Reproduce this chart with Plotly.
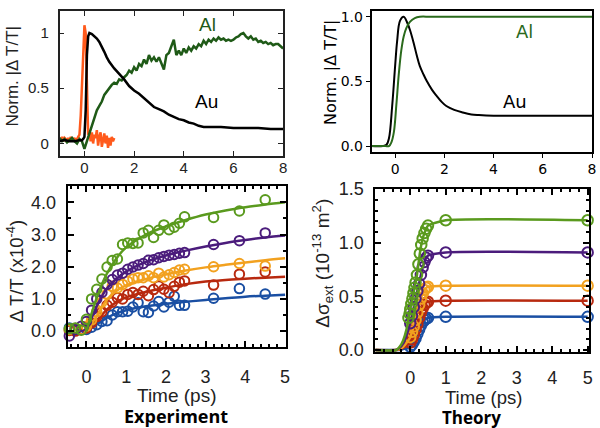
import plotly.graph_objects as go

# ---------------- Top-left: experiment, normalized |dT/T| ----------------
tl_grid = [round(-1.0 + 0.1 * i, 2) for i in range(91)]
al_exp = [0.05, 0.02, 0.04, 0.01, 0.03, 0.05, 0.02, 0.00, 0.04, 0.02,
          -0.05, 0.02, 0.10, 0.17, 0.22, 0.30, 0.34, 0.38, 0.44, 0.47,
          0.51, 0.53, 0.55, 0.54, 0.58, 0.57, 0.60, 0.62, 0.66, 0.64,
          0.69, 0.66, 0.72, 0.70, 0.76, 0.72, 0.80, 0.75, 0.78, 0.74,
          0.78, 0.72, 0.67, 0.80, 0.82, 0.88, 0.94, 0.80, 0.84, 0.80,
          0.86, 0.82, 0.87, 0.84, 0.88, 0.86, 0.90, 0.88, 0.93, 0.90,
          0.94, 0.92, 0.95, 0.93, 0.96, 0.94, 0.95, 0.93, 0.94, 0.93,
          0.94, 0.96, 0.97, 0.99, 1.00, 0.97, 0.95, 0.97, 0.94, 0.95,
          0.92, 0.93, 0.91, 0.92, 0.90, 0.91, 0.89, 0.90, 0.90, 0.88,
          0.86]
au_exp_t = [-1.0, -0.8, -0.6, -0.4, -0.2, -0.1, -0.05, 0.0, 0.05, 0.1, 0.15, 0.2,
            0.3, 0.4, 0.5, 0.6, 0.7, 0.8, 0.9, 1.0, 1.2, 1.4, 1.6, 1.8, 2.0,
            2.2, 2.4, 2.6, 2.8, 3.0, 3.2, 3.4, 3.6, 3.8, 4.0, 4.2, 4.4, 4.6,
            4.8, 5.0, 5.5, 6.0, 6.5, 7.0, 7.5, 8.0]
au_exp = [0.02, 0.03, 0.02, 0.02, 0.03, 0.03, 0.04, 0.06, 0.30, 0.80, 0.97, 1.00,
          0.99, 0.97, 0.95, 0.92, 0.88, 0.83, 0.78, 0.74, 0.68, 0.63, 0.58, 0.52, 0.48,
          0.45, 0.41, 0.37, 0.33, 0.31, 0.29, 0.26, 0.24, 0.22, 0.21, 0.19, 0.18, 0.16,
          0.15, 0.15, 0.15, 0.14, 0.14, 0.14, 0.13, 0.13]
pulse_t = [round(-1.0 + 0.05 * i, 2) for i in range(45)]
pulse = [0.05, 0.03, 0.06, 0.02, 0.05, 0.04, 0.01, 0.05, 0.03, 0.06,
         0.02, 0.04, 0.05, 0.02, 0.04, 0.06, 0.08, 0.25, 0.55, 0.90,
         1.07, 1.00, 0.45, 0.08, 0.12, 0.02, 0.10, 0.00, 0.08, 0.05,
         0.12, -0.02, 0.06, 0.10, -0.03, 0.04, 0.09, 0.00, 0.07, -0.04,
         0.05, -0.02, 0.06, 0.02, 0.05]

# ---------------- Top-right: theory, normalized ----------------
au_th_t = [-1.0, -0.5, -0.35, -0.25, -0.12, 0.0, 0.08, 0.2, 0.35, 0.5, 0.6, 0.75,
           0.88, 1.0, 1.15, 1.28, 1.5, 1.68, 1.9, 2.08, 2.4, 2.75, 3.1, 3.4, 4.0, 5.0, 8.0]
au_th = [0.0, 0.0, 0.01, 0.06, 0.31, 0.62, 0.81, 0.97, 1.00, 0.95, 0.90, 0.80,
         0.70, 0.62, 0.555, 0.505, 0.435, 0.39, 0.34, 0.31, 0.28, 0.26, 0.245, 0.24, 0.235, 0.235, 0.235]
al_th_t = [-1.0, -0.4, -0.25, -0.15, -0.05, 0.05, 0.15, 0.25, 0.35, 0.45, 0.6, 0.8, 1.0, 1.5, 8.0]
al_th = [0.0, 0.0, 0.0, 0.03, 0.11, 0.32, 0.56, 0.74, 0.85, 0.91, 0.96, 0.99, 1.0, 1.0, 1.0]

# ---------------- Bottom-left: experiment dT/T (x1e-4) ----------------
exp_t = [-0.43, -0.28, -0.13, 0.0, 0.13, 0.26, 0.39, 0.52, 0.65, 0.78, 0.91, 1.04, 1.17,
         1.30, 1.43, 1.56, 1.69, 1.82, 1.95, 2.08, 2.21, 2.34, 2.47, 3.2, 3.85, 4.5]
exp_green = [0.07, 0.10, 0.03, 0.37, 1.00, 1.30, 1.62, 1.99, 2.19, 2.24, 2.69, 2.74, 2.72,
             2.74, 3.05, 3.13, 2.91, 3.13, 3.30, 3.15, 3.23, 3.35, 3.55, 3.53, 3.73, 4.08]
exp_purple = [-0.15, 0.05, 0.15, 0.30, 0.65, 1.00, 1.20, 1.45, 1.60, 1.74, 1.80, 1.92, 1.99,
              2.05, 2.10, 2.20, 2.22, 2.28, 2.32, 2.36, 2.38, 2.42, 2.44, 2.69, 2.81, 3.05]
exp_orange = [0.05, 0.08, 0.05, 0.15, 0.35, 0.60, 0.90, 1.15, 1.39, 1.34, 1.45, 1.55, 1.62,
              1.66, 1.66, 1.72, 1.66, 1.80, 1.68, 1.75, 1.82, 1.90, 1.92, 2.00, 2.10, 2.02]
exp_red = [0.02, 0.00, 0.05, 0.10, 0.25, 0.45, 0.60, 0.80, 0.90, 1.04, 1.00, 1.14, 1.20,
           1.14, 1.24, 1.10, 1.29, 1.40, 1.30, 1.19, 1.39, 1.52, 1.56, 1.43, 1.77, 1.84]
exp_blue = [0.10, 0.08, 0.05, 0.05, 0.12, 0.20, 0.30, 0.32, 0.50, 0.60, 0.60, 0.62, 0.75,
            0.88, 0.60, 0.58, 0.78, 0.92, 0.75, 0.90, 1.08, 0.80, 0.80, 1.02, 1.32, 1.15]
fit_t = [0.0, 0.25, 0.5, 0.75, 1.0, 1.5, 2.0, 2.5, 3.0, 3.5, 4.0, 4.5, 5.0]
fit_green = [0.0, 1.00, 1.75, 2.25, 2.60, 3.00, 3.25, 3.45, 3.62, 3.75, 3.85, 3.93, 4.00]
fit_purple = [0.0, 0.75, 1.30, 1.62, 1.85, 2.15, 2.35, 2.50, 2.63, 2.74, 2.83, 2.91, 2.97]
fit_orange = [0.0, 0.45, 0.95, 1.25, 1.42, 1.62, 1.76, 1.88, 1.98, 2.06, 2.13, 2.20, 2.26]
fit_red = [0.0, 0.30, 0.65, 0.90, 1.05, 1.22, 1.35, 1.46, 1.54, 1.59, 1.63, 1.66, 1.69]
fit_blue = [0.0, 0.20, 0.40, 0.55, 0.65, 0.77, 0.85, 0.91, 0.97, 1.02, 1.07, 1.10, 1.13]

# ---------------- Bottom-right: theory delta sigma_ext ----------------
th_green_t = [-1.0, -0.05, -0.02, 0.0, 0.03, 0.06, 0.09, 0.12, 0.15, 0.19, 0.23, 0.27,
              0.31, 0.35, 0.40, 0.45, 0.50, 1.0, 5.0]
th_green = [0.0, 0.30, 0.34, 0.38, 0.43, 0.48, 0.53, 0.58, 0.63, 0.70, 0.80, 0.90,
            0.98, 1.04, 1.09, 1.13, 1.16, 1.21, 1.21]
th_t = [-1.0, 0.0, 0.05, 0.1, 0.15, 0.2, 0.25, 0.3, 0.35, 0.4, 0.45, 0.5, 1.0, 5.0]
th_purple = [0.0, 0.25, 0.32, 0.40, 0.48, 0.55, 0.62, 0.70, 0.77, 0.82, 0.86, 0.88, 0.91, 0.91]
th_orange = [0.0, 0.12, 0.17, 0.22, 0.28, 0.35, 0.42, 0.48, 0.53, 0.56, 0.58, 0.59, 0.60, 0.60]
th_red = [0.0, 0.07, 0.10, 0.14, 0.19, 0.24, 0.30, 0.35, 0.39, 0.42, 0.44, 0.45, 0.46, 0.46]
th_blue = [0.0, 0.03, 0.05, 0.08, 0.11, 0.15, 0.19, 0.23, 0.26, 0.28, 0.29, 0.30, 0.31, 0.31]
rise_t = [-1.0, -0.4, -0.3, -0.2, -0.1]
rise_green = [0.0, 0.0, 0.03, 0.09, 0.20]
rise_purple = [0.0, 0.0, 0.02, 0.06, 0.14]
rise_orange = [0.0, 0.0, 0.01, 0.03, 0.07]
rise_red = [0.0, 0.0, 0.005, 0.02, 0.04]
rise_blue = [0.0, 0.0, 0.0, 0.01, 0.015]

C_GREEN = "#5a9a1e"
C_PURPLE = "#4b1c7c"
C_ORANGE = "#f2a11f"
C_RED = "#b8290f"
C_BLUE = "#1a4fa3"
C_AL = "#1f5a17"
C_AU = "#000000"
C_PULSE = "#ff5a1c"

W, H = 600, 428
fig = go.Figure()

# top-left
fig.add_trace(go.Scatter(x=pulse_t, y=pulse, mode="lines", line=dict(color=C_PULSE, width=2.5),
                         xaxis="x", yaxis="y"))
fig.add_trace(go.Scatter(x=tl_grid, y=al_exp, mode="lines", line=dict(color=C_AL, width=2.5),
                         xaxis="x", yaxis="y"))
fig.add_trace(go.Scatter(x=au_exp_t, y=au_exp, mode="lines", line=dict(color=C_AU, width=2.5),
                         xaxis="x", yaxis="y"))
# top-right
fig.add_trace(go.Scatter(x=au_th_t, y=au_th, mode="lines", line=dict(color=C_AU, width=2, shape="spline"),
                         xaxis="x2", yaxis="y2"))
fig.add_trace(go.Scatter(x=al_th_t, y=al_th, mode="lines", line=dict(color="#2a6a1c", width=2, shape="spline"),
                         xaxis="x2", yaxis="y2"))

# bottom-left
for ys, fy, c in [(exp_blue, fit_blue, C_BLUE), (exp_red, fit_red, C_RED),
                  (exp_orange, fit_orange, C_ORANGE), (exp_purple, fit_purple, C_PURPLE),
                  (exp_green, fit_green, C_GREEN)]:
    fig.add_trace(go.Scatter(x=fit_t, y=fy, mode="lines", line=dict(color=c, width=2.5, shape="spline"),
                             xaxis="x3", yaxis="y3"))
    fig.add_trace(go.Scatter(x=exp_t, y=ys, mode="markers",
                             marker=dict(symbol="circle-open", size=9.5, color=c, line=dict(width=2)),
                             xaxis="x3", yaxis="y3", cliponaxis=False))

# bottom-right
for tt, ys, rt, rv, c in [(th_t, th_blue, rise_t, rise_blue, C_BLUE),
                          (th_t, th_red, rise_t, rise_red, C_RED),
                          (th_t, th_orange, rise_t, rise_orange, C_ORANGE),
                          (th_t, th_purple, rise_t, rise_purple, C_PURPLE),
                          (th_green_t, th_green, rise_t, rise_green, C_GREEN)]:
    lx = rt + tt[1:]
    ly = rv + ys[1:]
    fig.add_trace(go.Scatter(x=lx, y=ly, mode="lines", line=dict(color=c, width=2.5, shape="spline", smoothing=0.6),
                             xaxis="x4", yaxis="y4"))
    fig.add_trace(go.Scatter(x=tt, y=ys, mode="markers",
                             marker=dict(symbol="circle-open", size=10.5, color=c, line=dict(width=2)),
                             xaxis="x4", yaxis="y4", cliponaxis=False))


def px_x(a, b):
    return [a / W, b / W]


def px_y(top, bottom):
    return [1 - bottom / H, 1 - top / H]


ARIAL = "Liberation Sans, Arial, sans-serif"
DEJAVU = "DejaVu Sans, sans-serif"

common_bottom = dict(showgrid=False, zeroline=False, showline=True, linecolor="black", linewidth=2,
                     mirror="allticks", ticks="inside", ticklen=6, tickwidth=1.5, tickcolor="black",
                     tickfont=dict(family=ARIAL, size=18, color="#222"))

fig.update_layout(
    width=W, height=H, margin=dict(l=0, r=0, t=0, b=0),
    paper_bgcolor="white", plot_bgcolor="white", showlegend=False,
    xaxis=dict(domain=px_x(60, 285), range=[-1.0, 8.0], tickvals=[0, 2, 4, 6, 8],
               showgrid=False, zeroline=False, showline=True, linecolor="#222", linewidth=1.5,
               mirror="allticks", ticks="inside", ticklen=5, tickcolor="#222", anchor="y",
               tickfont=dict(family=ARIAL, size=15, color="#222"), ticklabelstandoff=-2),
    yaxis=dict(domain=px_y(1, 152), range=[-0.11, 1.2], tickvals=[0, 0.5, 1], ticktext=["0", "0.5", "1"],
               showgrid=False, zeroline=False, showline=True, linecolor="#222", linewidth=1.5,
               mirror="allticks", ticks="inside", ticklen=5, tickcolor="#222", anchor="x",
               tickfont=dict(family=ARIAL, size=15, color="#222"), ticklabelstandoff=6),
    xaxis2=dict(domain=px_x(374, 596), range=[-0.96, 8.0], tickvals=[0, 2, 4, 6, 8],
                showgrid=False, zeroline=False, showline=True, linecolor="black", linewidth=1.5,
                mirror=True, ticks="outside", ticklen=4, tickcolor="black", anchor="y2",
                tickfont=dict(family=DEJAVU, size=14, color="black"), ticklabelstandoff=0),
    yaxis2=dict(domain=px_y(1, 148), range=[-0.044, 1.045], tickvals=[0, 0.5, 1.0],
                ticktext=["0.0", "0.5", "1.0"],
                showgrid=False, zeroline=False, showline=True, linecolor="black", linewidth=1.5,
                mirror=True, ticks="outside", ticklen=4, tickcolor="black", anchor="x2",
                tickfont=dict(family=DEJAVU, size=14, color="black")),
    xaxis3=dict(domain=px_x(68, 288), range=[-0.475, 5.025], tickvals=[0, 1, 2, 3, 4, 5],
                minor=dict(dtick=0.2, ticks="inside", ticklen=3, tickcolor="black"),
                anchor="y3", ticklabelstandoff=12, **common_bottom),
    yaxis3=dict(domain=px_y(184, 352), range=[-0.5, 4.5], tickvals=[0, 1, 2, 3, 4],
                ticktext=["0.0", "1.0", "2.0", "3.0", "4.0"],
                minor=dict(dtick=0.5, ticks="inside", ticklen=3, tickcolor="black"),
                anchor="x3", ticklabelstandoff=6, **common_bottom),
    xaxis4=dict(domain=px_x(378, 593), range=[-0.98, 5.04], tickvals=[0, 1, 2, 3, 4, 5],
                minor=dict(dtick=0.25, ticks="inside", ticklen=3, tickcolor="black"),
                anchor="y4", ticklabelstandoff=8, **common_bottom),
    yaxis4=dict(domain=px_y(187, 357), range=[-0.018, 1.5], tickvals=[0, 0.5, 1.0, 1.5],
                ticktext=["0.0", "0.5", "1.0", "1.5"],
                minor=dict(dtick=0.1, ticks="inside", ticklen=3, tickcolor="black"),
                anchor="x4", ticklabelstandoff=6, **common_bottom),
)


def ann(text, x, y, size, family=ARIAL, color="#222", angle=0, bold=False):
    if bold:
        text = "<b>" + text + "</b>"
    fig.add_annotation(text=text, x=x / W, y=1 - y / H, xref="paper", yref="paper",
                       showarrow=False, xanchor="center", yanchor="middle", textangle=angle,
                       font=dict(family=family, size=size, color=color))


ann("Norm. |Δ T/T|", 12.5, 69, 17, angle=-90)
ann("Norm. |Δ T/T|", 332, 65, 16, family=DEJAVU, color="black", angle=-90)
ann("Al", 209, 15, 19, color=C_AL)
ann("Au", 208, 95, 19, color="black")
ann("Al", 528, 22, 18, family=DEJAVU, color="#2a6a1c")
ann("Au", 518, 96, 18, family=DEJAVU, color="black")
ann("Δ T/T (x10<sup>-4</sup>)", 15, 272, 18.5, angle=-90)
ann("Δσ<sub>ext</sub> (10<sup>-13</sup> m<sup>2</sup>)", 325, 264, 19, angle=-90)
ann("Time (ps)", 178, 402, 19)
ann("Time (ps)", 487, 405, 18.5)
ann("Experiment", 177, 424, 18, family="Open Sans, sans-serif", color="black", bold=True)
ann("Theory", 475, 425, 17, family="Open Sans, sans-serif", color="black", bold=True)

fig.write_html("out.html")
